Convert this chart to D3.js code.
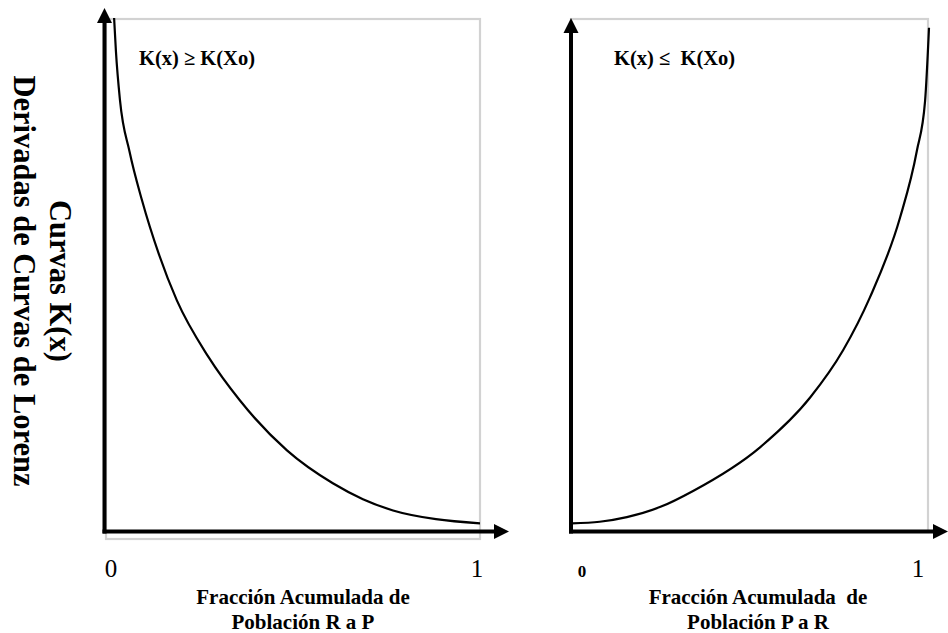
<!DOCTYPE html>
<html><head><meta charset="utf-8">
<script src="https://cdn.jsdelivr.net/npm/d3@7"></script>
<style>
html,body{margin:0;padding:0;background:#fff;}
svg{display:block;}
text{font-family:"Liberation Serif","Times New Roman",serif;fill:#000;}
</style></head>
<body>
<svg id="c" width="948" height="633"></svg>
<script>
// ---- data ----
const leftX = [0.003, 0.008, 0.019, 0.045, 0.079, 0.125, 0.174, 0.26, 0.346, 0.474, 0.599, 0.681, 0.763, 0.88, 1.0];
const leftY = [1.0, 0.935, 0.84, 0.74, 0.645, 0.54, 0.45, 0.34, 0.255, 0.158, 0.094, 0.063, 0.041, 0.024, 0.016];
const rightX = [0.003, 0.08, 0.156, 0.25, 0.341, 0.528, 0.668, 0.760, 0.835, 0.919, 0.966, 0.989, 1.0];
const rightY = [0.016, 0.019, 0.028, 0.048, 0.079, 0.164, 0.261, 0.353, 0.456, 0.611, 0.741, 0.838, 0.981];
const tickValues = [0, 1];
const tickLabels = ["0", "1"];
const leftAnnotation = "K(x) \u2265 K(Xo)";
const rightAnnotation = "K(x) \u2264\u00a0 K(Xo)";
const leftXTitle = ["Fracción Acumulada de", "Población R a P"];
const rightXTitle = ["Fracción Acumulada\u00a0 de", "Población P a R"];
const yTitle = ["Curvas K(x)", "Derivadas de Curvas de Lorenz"];

const svg = d3.select("#c");
const y = d3.scaleLinear().domain([0, 1]).range([531.5, 18]);
const panels = [
  {x: d3.scaleLinear().domain([0, 1]).range([113, 480]), xs: leftX, ys: leftY,
   axisX: 104.5, arrowTopY: 8, arrowRightX: 509, box: [106, 19, 480, 539],
   ann: leftAnnotation, annX: 139, title: leftXTitle, titleX: 303, boldZero: false},
  {x: d3.scaleLinear().domain([0, 1]).range([571, 929]), xs: rightX, ys: rightY,
   axisX: 571, arrowTopY: 18, arrowRightX: 948, box: [571, 19, 928, 532],
   ann: rightAnnotation, annX: 614, title: rightXTitle, titleX: 758, boldZero: true}
];

panels.forEach(p => {
  const g = svg.append("g");
  // gray frame
  g.append("rect").attr("x", p.box[0]).attr("y", p.box[1])
    .attr("width", p.box[2] - p.box[0]).attr("height", p.box[3] - p.box[1])
    .attr("fill", "none").attr("stroke", "#d2d2d2").attr("stroke-width", 2.2);
  // curve
  const pts = p.xs.map((v, i) => [v, p.ys[i]]);
  const line = d3.line().x(d => p.x(d[0])).y(d => y(d[1])).curve(d3.curveMonotoneX);
  g.append("path").attr("d", line(pts)).attr("fill", "none")
    .attr("stroke", "#000").attr("stroke-width", 2.2);
  // axes
  const baseY = y(0);
  g.append("line").attr("x1", p.axisX).attr("x2", p.axisX)
    .attr("y1", baseY + 2).attr("y2", p.arrowTopY + 12)
    .attr("stroke", "#000").attr("stroke-width", 4);
  g.append("path").attr("d", `M${p.axisX - 7.5},${p.arrowTopY + 15}L${p.axisX},${p.arrowTopY}L${p.axisX + 7.5},${p.arrowTopY + 15}Z`)
    .attr("fill", "#000");
  g.append("line").attr("x1", p.axisX - 2).attr("x2", p.arrowRightX - 12)
    .attr("y1", baseY).attr("y2", baseY)
    .attr("stroke", "#000").attr("stroke-width", 4);
  g.append("path").attr("d", `M${p.arrowRightX - 15},${baseY - 7.5}L${p.arrowRightX},${baseY}L${p.arrowRightX - 15},${baseY + 7.5}Z`)
    .attr("fill", "#000");
  // tick labels
  tickValues.forEach((t, i) => {
    const bold = p.boldZero && i === 0;
    let xx = p.x(t);
    if (bold) xx += 11; else if (i === 0) xx -= 2; else xx -= (p.boldZero ? 11 : 3);
    g.append("text").attr("x", xx).attr("y", 577)
      .attr("text-anchor", "middle")
      .style("font-size", bold ? "17px" : "25px")
      .style("font-weight", bold ? "bold" : "normal")
      .text(tickLabels[i]);
  });
  // annotation
  g.append("text").attr("x", p.annX).attr("y", 65)
    .style("font-size", "20.5px").style("font-weight", "bold")
    .style("white-space", "pre").text(p.ann);
  // x title
  p.title.forEach((s, i) => {
    g.append("text").attr("x", p.titleX).attr("y", 604 + i * 25)
      .attr("text-anchor", "middle").style("font-size", "21px")
      .style("font-weight", "bold").style("white-space", "pre").text(s);
  });
});

// y title (rotated clockwise)
const yt = svg.append("g").attr("transform", "translate(50,281) rotate(90)");
yTitle.forEach((s, i) => {
  yt.append("text").attr("x", 0).attr("y", 0 + i * 36)
    .attr("text-anchor", "middle").style("font-size", "30.5px")
    .style("font-weight", "bold").text(s);
});
</script>
</body></html>
